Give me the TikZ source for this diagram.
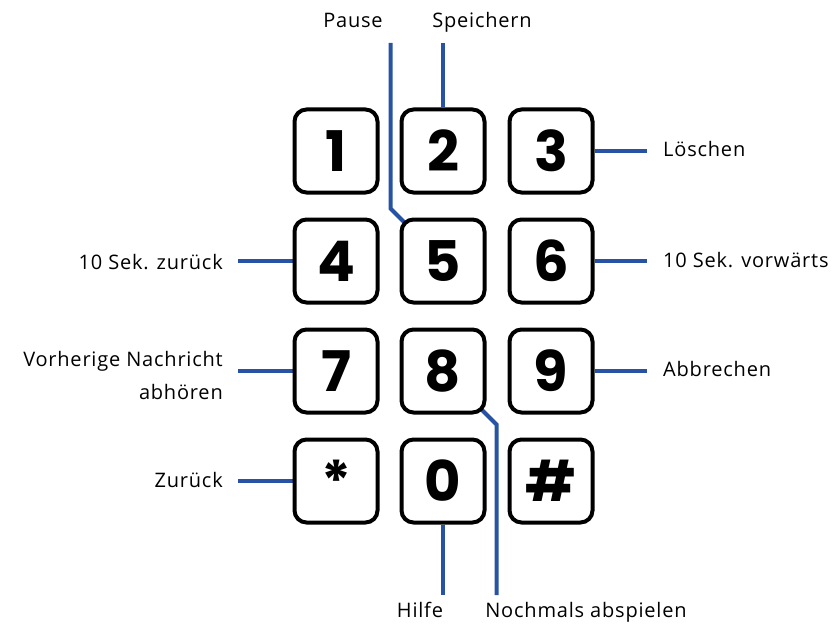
\documentclass[tikz,border=0pt]{standalone}
\usepackage{fontspec}
\setmainfont{Open Sans}
\newfontfamily\labelfont{Open Sans}[LetterSpace=4]
\newfontfamily\keyfont{Poppins}
\usetikzlibrary{backgrounds}

\definecolor{lineblue}{RGB}{40,82,163}

\tikzset{
	key/.style={draw=black, line width=4pt, rounded corners=12pt, fill=white,
		minimum width=83pt, minimum height=83pt, inner sep=0pt,
		font=\keyfont\bfseries\fontsize{56}{56}\selectfont},
	link/.style={draw=lineblue, line width=4pt},
	lbl/.style={inner sep=0pt, font=\labelfont\fontsize{20}{33}\selectfont}
}

\begin{document}
\begin{tikzpicture}[x=1pt, y=-1pt]
		      		\useasboundingbox (0,0) rectangle (834,631);

		      		\node[key] (k1) at (336,151) {1};
		      		\node[key] (k2) at (443,151) {2};
		      		\node[key] (k3) at (551,151) {3};
		      		\node[key] (k4) at (336,261) {4};
		      		\node[key] (k5) at (443,261) {5};
		      		\node[key] (k6) at (551,261) {6};
		      		\node[key] (k7) at (336,371) {7};
		      		\node[key] (k8) at (443,371) {8};
		      		\node[key] (k9) at (551,371) {9};
		      		\node[key] (kstar) at (336,481) {*};
		      		\node[key] (k0) at (443,481) {0};
		      		\node[key] (khash) at (551,481) {\#};

		      		\node[lbl, anchor=base] (lpause) at (353,28) {Pause};
		      		\node[lbl, anchor=base] (lsave) at (482,28) {Speichern};
		      		\node[lbl, anchor=base west] (ldel) at (663,157) {Löschen};
		      		\node[lbl, anchor=base west] (lfwd) at (663,267) {10 Sek. vorwärts};
		      		\node[lbl, anchor=base west] (lcancel) at (663,376) {Abbrechen};
		      		\node[lbl, anchor=base east] (lrew) at (223,269) {10 Sek. zurück};
		      		\node[lbl, anchor=east, align=right] (lprev) at (223,375) {Vorherige Nachricht\\abhören};
		      		\node[lbl, anchor=base east] (lback) at (223,487) {Zurück};
		      		\node[lbl, anchor=base] (lhelp) at (420,617) {Hilfe};
		      		\node[lbl, anchor=base] (lagain) at (586,617) {Nochmals abspielen};

		      		\coordinate (top) at (0,43);
		      		\coordinate (bottom) at (0,595);

		      		% lines go under the keys
		      		\begin{scope}[on background layer]
		      			\draw[link, shorten >=15pt] (k4.west) -- (k4.west -| lrew.east);
		      			\draw[link, shorten >=15pt] (k7.west) -- (k7.west -| lprev.east);
		      			\draw[link, shorten >=15pt] (kstar.west) -- (kstar.west -| lback.east);
		      			\draw[link, shorten >=16pt] (k3.east) -- (k3.east -| ldel.west);
		      			\draw[link, shorten >=16pt] (k6.east) -- (k6.east -| lfwd.west);
		      			\draw[link, shorten >=16pt] (k9.east) -- (k9.east -| lcancel.west);

		      			\draw[link] (k2.north) -- (k2.north |- top);
		      			\draw[link] (k5.north west) ++(6,6) -- ++(-15,-15) coordinate (p5) -- (p5 |- top);
		      			\draw[link] (k0.south) -- (k0.south |- bottom);
		      			\draw[link] (k8.south east) ++(-6,-6) -- ++(16,16) coordinate (p8) -- (p8 |- bottom);
		      		\end{scope}
		      	\end{tikzpicture}
\end{document}
